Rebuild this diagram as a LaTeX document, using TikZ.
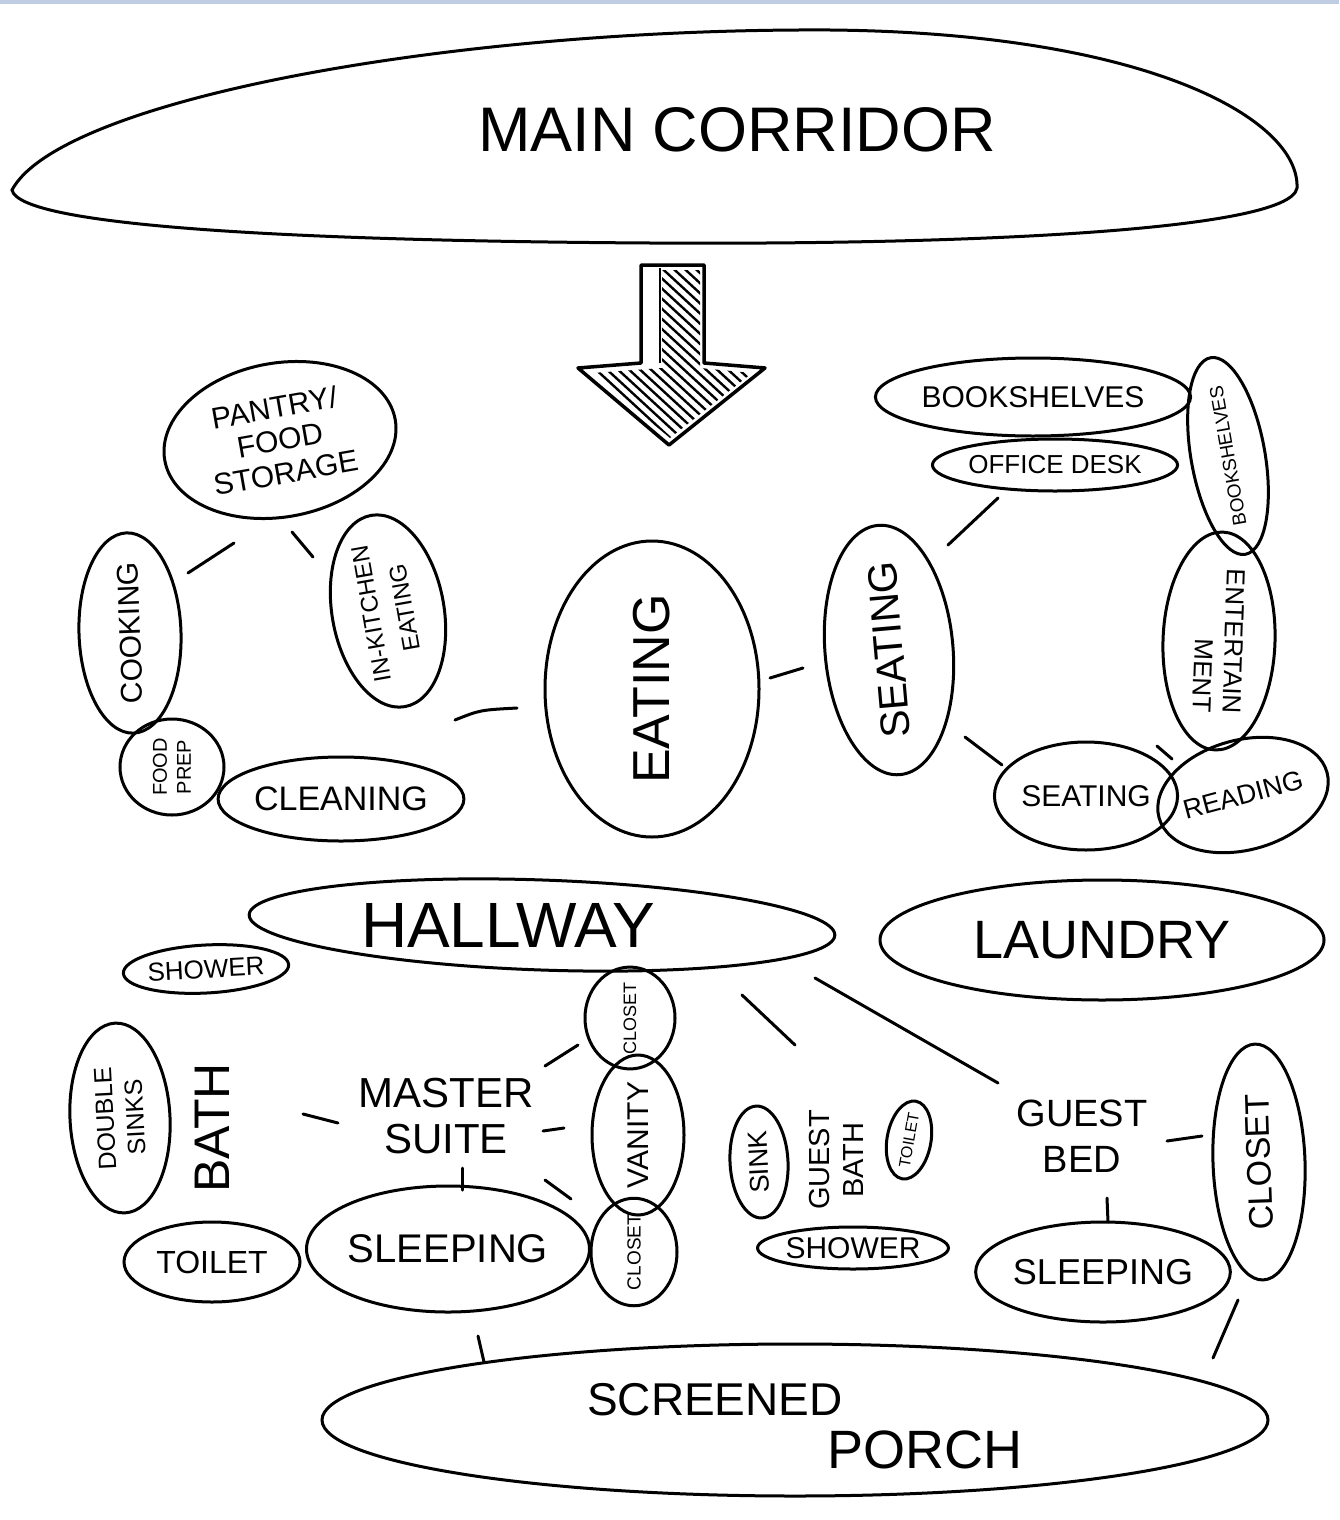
\documentclass[tikz,border=0pt]{standalone}
\usepackage{fontspec}
\setmainfont{Liberation Sans}
\usetikzlibrary{shapes.geometric}
\definecolor{topbar}{RGB}{190,205,228}
\newcommand\fsz[2]{\fontsize{#1}{#2}\selectfont}
\tikzset{
  bub/.style={draw, ellipse, line width=3pt, inner sep=0pt, align=center},
  lbl/.style={inner sep=0pt, align=center},
  link/.style={line width=3pt, line cap=round},
  hatch/.style={line width=2.4pt, line cap=round},
}
\begin{document}
\begin{tikzpicture}[x=1pt,y=-1pt]
\useasboundingbox (0,0) rectangle (1339,1520);
\fill[white] (0,0) rectangle (1339,1520);
\fill[topbar] (0,0) rectangle (1339,4);

% main corridor
\draw[line width=3pt] (12,190) .. controls (60,100) and (450,28) .. (830,30)
  .. controls (1150,33) and (1300,120) .. (1297,188)
  .. controls (1290,232) and (950,245) .. (650,243)
  .. controls (320,241) and (20,228) .. (12,190) -- cycle;
\node[lbl, font=\fsz{63}{70}] (corridor) at (737,130) {MAIN CORRIDOR};

% arrow
\begin{scope}
  \clip (662,270) -- (700,270) -- (700,368) -- (752,373) -- (670,438) -- (592,373) -- (662,368) -- cycle;
  \foreach \k in {0,...,36} {
    \draw[hatch] ({400+\k*11},250) -- ({400+\k*11+250},{250+230});
  }
\end{scope}
\draw[line width=3.5pt, line join=round] (641,265) -- (704,265) -- (704,363) -- (765,368) -- (669,445) -- (578,368) -- (641,363) -- cycle;
\draw[line width=2.5pt] (660,268) -- (660,363);

% kitchen group
\node[bub, minimum width=234, minimum height=154, rotate=10, font=\fsz{30}{33}] (pantry) at (280,440) {PANTRY/\\FOOD\\STORAGE};
\node[bub, minimum width=170, minimum height=102, rotate=92, font=\fsz{30}{32}] (cooking) at (130,633) {COOKING};
\node[bub, minimum width=170, minimum height=112, rotate=100, font=\fsz{24}{34}] (inkitchen) at (388,611) {IN-KITCHEN\\EATING};
\node[bub, minimum width=96, minimum height=104, rotate=90, font=\fsz{20}{24}] (foodprep) at (172,767) {FOOD\\PREP};
\node[bub, minimum width=210, minimum height=84, font=\fsz{34}{36}] (cleaning) at (341,799) {CLEANING};
\node[bub, minimum width=296, minimum height=214, rotate=90, font=\fsz{52}{56}] (eating) at (652,689) {EATING};

% living group
\node[bub, minimum width=238, minimum height=128, rotate=95, font=\fsz{41}{44}] (seating) at (889,650) {SEATING};
\node[bub, minimum width=292, minimum height=78, font=\fsz{30}{32}] (bookshelves) at (1033,397) {BOOKSHELVES};
\node[bub, minimum width=210, minimum height=52, font=\fsz{26}{28}] (office) at (1055,465) {OFFICE DESK};
\node[bub, minimum width=170, minimum height=74, rotate=100, font=\fsz{19}{21}] (bookshelves2) at (1228,456) {BOOKSHELVES};
\node[bub, minimum width=218, minimum height=112, rotate=-92, align=right, font=\fsz{26}{30}] (entertain) at (1219,641) {ENTERTAIN\\MENT};
\node[bub, minimum width=162, minimum height=108, font=\fsz{30}{32}] (seating2) at (1086,796) {SEATING};
\node[bub, minimum width=142, minimum height=110, rotate=15, font=\fsz{27}{29}] (reading) at (1243,795) {READING};

% hallway & laundry
\node[bub, minimum width=586, minimum height=90, rotate=-2] (hallway) at (542,925) {};
\node[lbl, font=\fsz{64}{70}] (hallwaytxt) at (508,925) {HALLWAY};
\node[bub, minimum width=444, minimum height=120, font=\fsz{54}{58}] (laundry) at (1102,940) {LAUNDRY};

% master suite group
\node[bub, minimum width=145, minimum height=48, rotate=3, font=\fsz{26}{28}] (shower) at (206,969) {SHOWER};
\node[bub, minimum width=190, minimum height=100, rotate=93, font=\fsz{25}{30}] (sinks) at (120,1118) {DOUBLE\\SINKS};
\node[lbl, rotate=90, font=\fsz{50}{54}] (bath) at (212,1128) {BATH};
\node[lbl, font=\fsz{42}{46}] (master) at (446,1116) {MASTER\\SUITE};
\node[bub, minimum width=176, minimum height=80, font=\fsz{32}{34}] (toilet) at (212,1262) {TOILET};
\node[bub, minimum width=236, minimum height=126, font=\fsz{40}{42}] (sleeping) at (448,1249) {SLEEPING};
\node[bub, minimum width=84, minimum height=90, rotate=90, font=\fsz{18}{20}] (closet1) at (630,1018) {CLOSET};
\node[bub, minimum width=160, minimum height=92, rotate=90, font=\fsz{30}{32}] (vanity) at (638,1135) {VANITY};
\node[bub, minimum width=88, minimum height=86, rotate=90, font=\fsz{19}{21}] (closet2) at (634,1252) {CLOSET};

% guest bath
\node[bub, minimum width=112, minimum height=58, rotate=93, font=\fsz{27}{29}] (sink) at (759,1162) {SINK};
\node[lbl, rotate=90, font=\fsz{29}{34}] (guestbath) at (836,1160) {GUEST\\BATH};
\node[bub, minimum width=72, minimum height=44, rotate=80, font=\fsz{16}{18}] (toilet2) at (909,1140) {TOILET};
\node[bub, minimum width=176, minimum height=42, font=\fsz{30}{32}] (shower2) at (853,1248) {SHOWER};

% guest bed
\node[lbl, font=\fsz{38}{46}] (guestbed) at (1082,1136) {GUEST\\BED};
\node[bub, minimum width=236, minimum height=92, rotate=92, font=\fsz{34}{36}] (closet3) at (1259,1162) {CLOSET};
\node[bub, minimum width=212, minimum height=100, font=\fsz{36}{38}] (sleeping2) at (1103,1272) {SLEEPING};

% screened porch
\node[bub, minimum width=946, minimum height=152] (porch) at (795,1420) {};
\node[lbl, font=\fsz{46}{50}] (porch1) at (715,1400) {SCREENED};
\node[lbl, font=\fsz{54}{58}] (porch2) at (925,1450) {PORCH};

% connector ends
\coordinate (pc1) at (188,573); \coordinate (pc2) at (234,543);
\coordinate (pk1) at (292,532); \coordinate (pk2) at (313,557);
\coordinate (ke1) at (455,720); \coordinate (ke2) at (517,708);
\coordinate (es1) at (770,678); \coordinate (es2) at (803,668);
\coordinate (so1) at (948,545); \coordinate (so2) at (998,498);
\coordinate (ss1) at (965,737); \coordinate (ss2) at (1002,765);
\coordinate (se1) at (1157,746); \coordinate (se2) at (1172,759);
\coordinate (hg1) at (742,995); \coordinate (hg2) at (795,1045);
\coordinate (hb1) at (815,978); \coordinate (hb2) at (998,1083);
\coordinate (mb1) at (303,1114); \coordinate (mb2) at (338,1123);
\coordinate (mc1) at (545,1066); \coordinate (mc2) at (578,1045);
\coordinate (mv1) at (543,1131); \coordinate (mv2) at (564,1128);
\coordinate (md1) at (545,1180); \coordinate (md2) at (571,1199);
\coordinate (ms1) at (462,1168); \coordinate (ms2) at (462,1190);
\coordinate (gc1) at (1167,1141); \coordinate (gc2) at (1202,1136);
\coordinate (gs1) at (1107,1198); \coordinate (gs2) at (1108,1222);
\coordinate (sp1) at (478,1336); \coordinate (sp2) at (484,1362);
\coordinate (cp1) at (1238,1300); \coordinate (cp2) at (1213,1358);

\draw[link] (pc1) -- (pc2);
\draw[link] (pk1) -- (pk2);
\draw[link] (ke1) .. controls (480,710) .. (ke2);
\draw[link] (es1) -- (es2);
\draw[link] (so1) -- (so2);
\draw[link] (ss1) -- (ss2);
\draw[link] (se1) -- (se2);
\draw[link] (hg1) -- (hg2);
\draw[link] (hb1) -- (hb2);
\draw[link] (mb1) -- (mb2);
\draw[link] (mc1) -- (mc2);
\draw[link] (mv1) -- (mv2);
\draw[link] (md1) -- (md2);
\draw[link] (ms1) -- (ms2);
\draw[link] (gc1) -- (gc2);
\draw[link] (gs1) -- (gs2);
\draw[link] (sp1) -- (sp2);
\draw[link] (cp1) -- (cp2);
\end{tikzpicture}
\end{document}
